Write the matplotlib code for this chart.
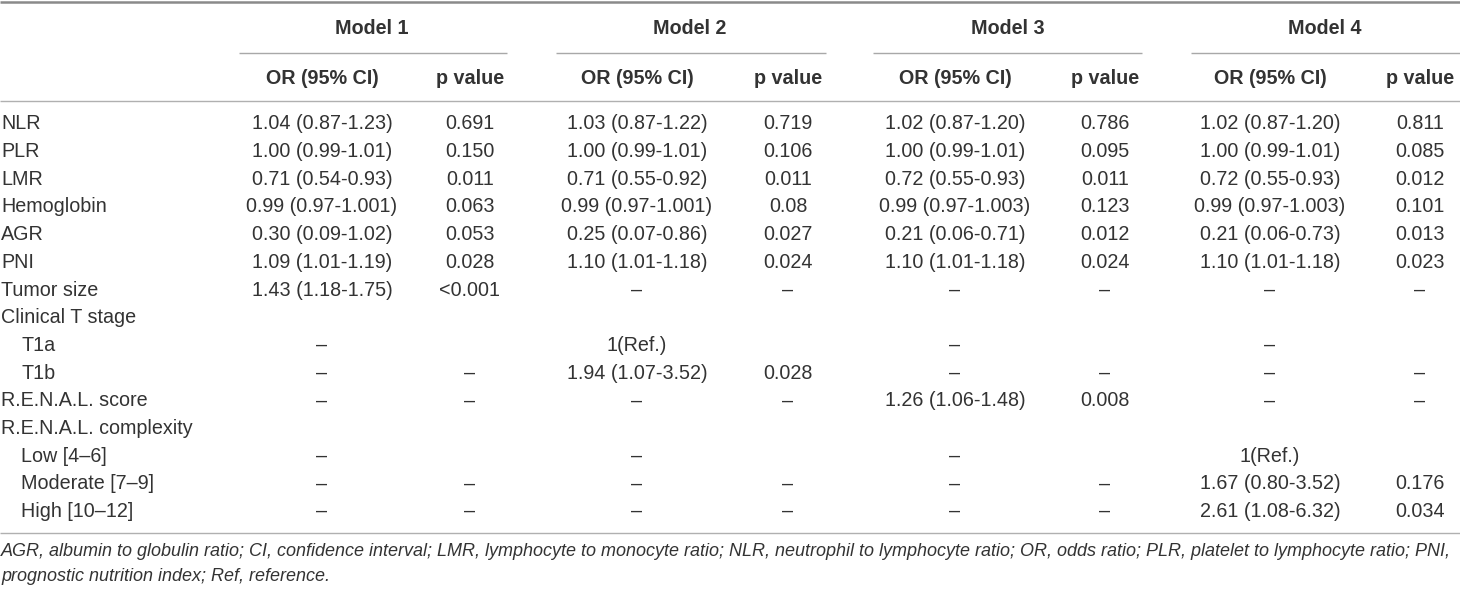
import matplotlib
matplotlib.use("Agg")
import matplotlib.pyplot as plt

plt.rcParams['font.family'] = ['Liberation Sans', 'DejaVu Sans']

models = ["Model 1", "Model 2", "Model 3", "Model 4"]
sub_headers = ["OR (95% CI)", "p value"]

row_labels = ["NLR", "PLR", "LMR", "Hemoglobin", "AGR", "PNI", "Tumor size",
              "Clinical T stage", "T1a", "T1b", "R.E.N.A.L. score",
              "R.E.N.A.L. complexity", "Low [4–6]", "Moderate [7–9]", "High [10–12]"]
row_indent = [False, False, False, False, False, False, False,
              False, True, True, False, False, True, True, True]

D = "–"
m1_or = ["1.04 (0.87-1.23)", "1.00 (0.99-1.01)", "0.71 (0.54-0.93)", "0.99 (0.97-1.001)",
         "0.30 (0.09-1.02)", "1.09 (1.01-1.19)", "1.43 (1.18-1.75)", "", D, D, D, "", D, D, D]
m1_p = ["0.691", "0.150", "0.011", "0.063", "0.053", "0.028", "<0.001", "", "", D, D, "", "", D, D]
m2_or = ["1.03 (0.87-1.22)", "1.00 (0.99-1.01)", "0.71 (0.55-0.92)", "0.99 (0.97-1.001)",
         "0.25 (0.07-0.86)", "1.10 (1.01-1.18)", D, "", "1(Ref.)", "1.94 (1.07-3.52)", D, "", D, D, D]
m2_p = ["0.719", "0.106", "0.011", "0.08", "0.027", "0.024", D, "", "", "0.028", D, "", "", D, D]
m3_or = ["1.02 (0.87-1.20)", "1.00 (0.99-1.01)", "0.72 (0.55-0.93)", "0.99 (0.97-1.003)",
         "0.21 (0.06-0.71)", "1.10 (1.01-1.18)", D, "", D, D, "1.26 (1.06-1.48)", "", D, D, D]
m3_p = ["0.786", "0.095", "0.011", "0.123", "0.012", "0.024", D, "", "", D, "0.008", "", "", D, D]
m4_or = ["1.02 (0.87-1.20)", "1.00 (0.99-1.01)", "0.72 (0.55-0.93)", "0.99 (0.97-1.003)",
         "0.21 (0.06-0.73)", "1.10 (1.01-1.18)", D, "", D, D, D, "", "1(Ref.)",
         "1.67 (0.80-3.52)", "2.61 (1.08-6.32)"]
m4_p = ["0.811", "0.085", "0.012", "0.101", "0.013", "0.023", D, "", "", D, D, "", "", "0.176", "0.034"]

columns = [m1_or, m1_p, m2_or, m2_p, m3_or, m3_p, m4_or, m4_p]

footnote = ["AGR, albumin to globulin ratio; CI, confidence interval; LMR, lymphocyte to monocyte ratio; "
            "NLR, neutrophil to lymphocyte ratio; OR, odds ratio; PLR, platelet to lymphocyte ratio; PNI,",
            "prognostic nutrition index; Ref, reference."]

# layout (pixel coordinates)
W, H = 1460, 590
col_x = [322, 470, 637, 788, 955, 1105, 1270, 1420]
model_x = [372, 690, 1008, 1325]
model_line = [(239, 507), (556, 826), (873, 1142), (1191, 1460)]
row_y0, row_dy = 123.8, 27.7
txt = "#333333"
fs = 14.2

fig = plt.figure(figsize=(W / 100, H / 100), dpi=100)
ax = fig.add_axes([0, 0, 1, 1])
ax.set_xlim(0, W)
ax.set_ylim(H, 0)
ax.axis("off")

ax.plot([0, W], [1.5, 1.5], color="#8a8a8a", lw=1.8, solid_capstyle="butt")
for (a, b), mx, name in zip(model_line, model_x, models):
    ax.text(mx, 29, name, ha="center", va="center", fontsize=fs, fontweight="bold", color=txt)
    ax.plot([a, b], [53, 53], color="#a8a8a8", lw=1.0, solid_capstyle="butt")
for i, cx in enumerate(col_x):
    ax.text(cx, 78, sub_headers[i % 2], ha="center", va="center", fontsize=fs,
            fontweight="bold", color=txt)
ax.plot([0, W], [101, 101], color="#b0b0b0", lw=1.0, solid_capstyle="butt")

for r, (lab, ind) in enumerate(zip(row_labels, row_indent)):
    y = row_y0 + r * row_dy
    ax.text(21 if ind else 1, y, lab, ha="left", va="center", fontsize=fs, color=txt)
    for cx, col in zip(col_x, columns):
        if col[r]:
            ax.text(cx, y, col[r], ha="center", va="center", fontsize=fs, color=txt)

ax.plot([0, W], [533, 533], color="#b0b0b0", lw=1.0, solid_capstyle="butt")

# footnote: shrink to fit the available width
foot = []
for k, line in enumerate(footnote):
    foot.append(ax.text(1, 552 + k * 24.5, line, ha="left", va="center", fontsize=fs,
                        style="italic", color=txt))
fig.canvas.draw()
r = fig.canvas.get_renderer()
wmax = max(t.get_window_extent(r).width for t in foot)
if wmax > 1452:
    for t in foot:
        t.set_fontsize(fs * 1452 / wmax)

fig.savefig("out.png", dpi=100, facecolor="white")
